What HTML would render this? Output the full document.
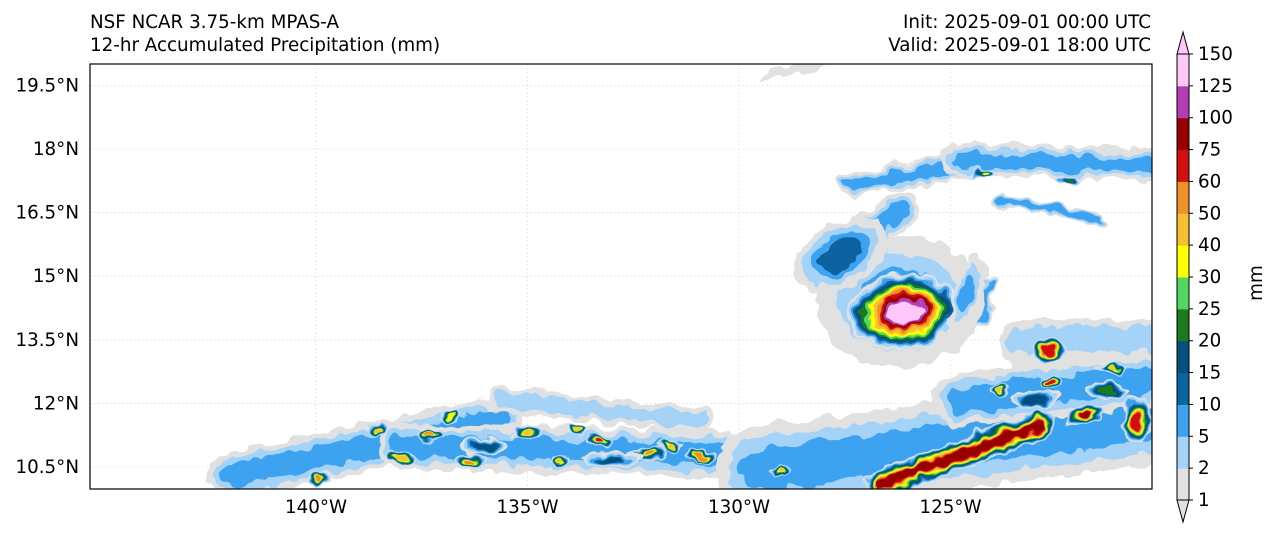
<!DOCTYPE html>
<html><head><meta charset="utf-8"><style>
body{margin:0;background:#fff;font-family:"Liberation Sans","DejaVu Sans",sans-serif;}
svg text{font-family:"DejaVu Sans","Liberation Sans",sans-serif;font-size:18.3px;fill:#000}
</style></head><body>
<svg id="chart" width="1280" height="537" xmlns="http://www.w3.org/2000/svg">
<defs><clipPath id="mapclip"><rect x="90" y="64" width="1062" height="425"/></clipPath>
<filter id="rough" x="-5%" y="-5%" width="110%" height="110%">
<feTurbulence type="fractalNoise" baseFrequency="0.06" numOctaves="2" seed="4" result="n"/>
<feDisplacementMap in="SourceGraphic" in2="n" scale="16" xChannelSelector="R" yChannelSelector="G"/>
</filter></defs>
<text x="90" y="28">NSF NCAR 3.75-km MPAS-A</text>
<text x="90" y="51">12-hr Accumulated Precipitation (mm)</text>
<text x="1151" y="28" text-anchor="end">Init: 2025-09-01 00:00 UTC</text>
<text x="1151" y="51" text-anchor="end">Valid: 2025-09-01 18:00 UTC</text>
<g id="grid"></g>
<g clip-path="url(#mapclip)"><g id="field" filter="url(#rough)"></g></g>
<rect x="90" y="64" width="1062" height="425" fill="none" stroke="#000" stroke-width="1.2"/>
<g id="axes"></g>
<g id="cbar"></g>
<text x="1262" y="283" transform="rotate(-90 1262 283)" text-anchor="middle">mm</text>
</svg>
<script>
const levels=[1,2,5,10,15,20,25,30,40,50,60,75,100,125,150];
const colors=["#e1e1e1","#a5d3f8","#3ca2f0","#0a64a0","#05507f","#1e7a1e","#50d860","#ffff00","#f8c030","#f0902a","#d21010","#980000","#b43cb4","#ffc6f8"];
const lonTicks=[140,135,130,125];
const latTicks=[10.5,12,13.5,15,16.5,18,19.5];
// blobs: [lonW, lat, rxDeg, ryDeg, maxLevelIndex, rotationDeg]
const blobs=[
[126.2,14.4,2.0,1.55,2,0],[126.1,14.15,1.35,0.9,13,-5],
[127.6,15.5,1.2,0.75,3,-30],[124.6,14.6,0.3,0.9,2,20],
[122.65,13.26,0.4,0.3,10,0],[122.65,12.48,0.25,0.15,10,0],
[121.8,11.73,0.45,0.22,11,-15],[120.6,11.6,0.35,0.6,10,0],
[136.4,10.67,0.35,0.18,9,0],[137.3,11.25,0.3,0.15,9,0],
[133.3,11.1,0.3,0.15,10,0],[132.1,10.78,0.45,0.2,9,0],
[130.9,10.78,0.35,0.15,9,0],[139.9,10.19,0.3,0.15,9,0],
[134.2,10.67,0.25,0.12,8,0],[129.0,10.43,0.25,0.12,8,0],
[123.8,12.32,0.25,0.15,8,0],[138.5,11.4,0.25,0.15,8,0],
[135.0,11.3,0.3,0.15,8,0],[121.2,12.8,0.3,0.15,8,0],
[124.2,17.4,0.3,0.12,7,0],[122.2,17.3,0.3,0.12,5,0],
[136.8,11.7,0.25,0.12,7,0],[133.8,11.4,0.25,0.12,8,0],
[131.6,11.0,0.25,0.12,8,0],[138.0,10.7,0.3,0.15,8,0],
[136.0,11.0,0.6,0.2,4,0],[133.0,10.7,0.7,0.2,4,0],
[123.0,12.1,0.6,0.2,4,0],[121.3,12.3,0.5,0.2,5,0],
[128.6,19.9,0.9,0.12,0,-15]];
// bands: [lon1W, lat1, lon2W, lat2, widthDeg, maxLevelIndex]
const bands=[
[122.3,12.6,120.24,12.6,2.6,0],
[142.0,10.3,135.65,11.61,1.1,2],[138.0,11.0,130.45,10.8,1.1,2],
[135.65,12.08,130.9,11.6,0.6,1],[129.5,10.43,120.24,11.61,2.1,2],
[124.78,12.08,120.24,12.55,1.3,2],[123.36,13.5,120.24,13.5,0.9,1],
[126.67,10.08,122.88,11.49,0.7,11],[127.85,15.38,126.19,16.56,0.9,2],
[127.38,17.15,123.83,17.74,0.6,2],[124.78,17.74,120.24,17.62,0.8,2],
[123.83,16.8,121.47,16.33,0.3,2],[124.07,14.91,124.3,13.97,0.35,2]];
const ns="http://www.w3.org/2000/svg";
const px=d=>d*42.3;
const X=lonW=>316+(140-lonW)*42.3;
const Y=lat=>467-(lat-10.5)*42.4;
const field=document.getElementById('field');
function mk(tag,attrs,parent){const e=document.createElementNS(ns,tag);for(const k in attrs)e.setAttribute(k,attrs[k]);parent.appendChild(e);return e;}
bands.forEach(b=>{const L=b[5];for(let k=0;k<=L;k++){const s=1-0.8*k/(L+1);
const e=mk('line',{x1:X(b[0]),y1:Y(b[1]),x2:X(b[2]),y2:Y(b[3]),stroke:colors[k],'stroke-width':px(b[4])*s,'stroke-linecap':'round'},field);

}});
blobs.forEach(b=>{const L=b[4];for(let k=0;k<=L;k++){const s=1-0.75*k/(L+1);
const cx=X(b[0]),cy=Y(b[1]);
const e=mk('ellipse',{cx:cx,cy:cy,rx:px(b[2])*s,ry:px(b[3])*s,fill:colors[k],transform:`rotate(${b[5]} ${cx} ${cy})`},field);

}});
const grid=document.getElementById('grid'),axes=document.getElementById('axes');
lonTicks.forEach(l=>{const x=X(l);
const g=mk('line',{x1:x,y1:64,x2:x,y2:489,stroke:'#ddd','stroke-width':0.6,'stroke-dasharray':'2,2'},grid);

const t=mk('text',{x:x,y:513,'text-anchor':'middle'},axes);t.textContent=l+'°W';

});
latTicks.forEach(l=>{const y=Y(l);
const g=mk('line',{x1:90,y1:y,x2:1152,y2:y,stroke:'#ddd','stroke-width':0.6,'stroke-dasharray':'2,2'},grid);

const t=mk('text',{x:79,y:y+6,'text-anchor':'end'},axes);t.textContent=l+'°N';

});
const cb=document.getElementById('cbar');
const cbTop=54,step=(500-54)/(levels.length-1),x0=1177,w=12;
for(let i=0;i<colors.length;i++){const y1=500-step*(i+1);
const r=mk('rect',{x:x0,y:y1,width:w,height:step+0.5,fill:colors[i]},cb);

}
const tt=mk('path',{d:`M${x0} ${cbTop} L${x0+w/2} ${cbTop-22} L${x0+w} ${cbTop} Z`,fill:colors[13],stroke:'#000','stroke-width':1},cb);

const tb=mk('path',{d:`M${x0} 500 L${x0+w/2} 522 L${x0+w} 500 Z`,fill:colors[0],stroke:'#000','stroke-width':1},cb);

const ol=mk('rect',{x:x0,y:cbTop,width:w,height:500-cbTop,fill:'none',stroke:'#000','stroke-width':1},cb);

levels.forEach((v,i)=>{const y=500-step*i;
const tk=mk('line',{x1:x0+w,y1:y,x2:x0+w+4,y2:y,stroke:'#000'},cb);

const t=mk('text',{x:x0+w+9,y:y+6},cb);t.textContent=v;

});
</script>
</body></html>
